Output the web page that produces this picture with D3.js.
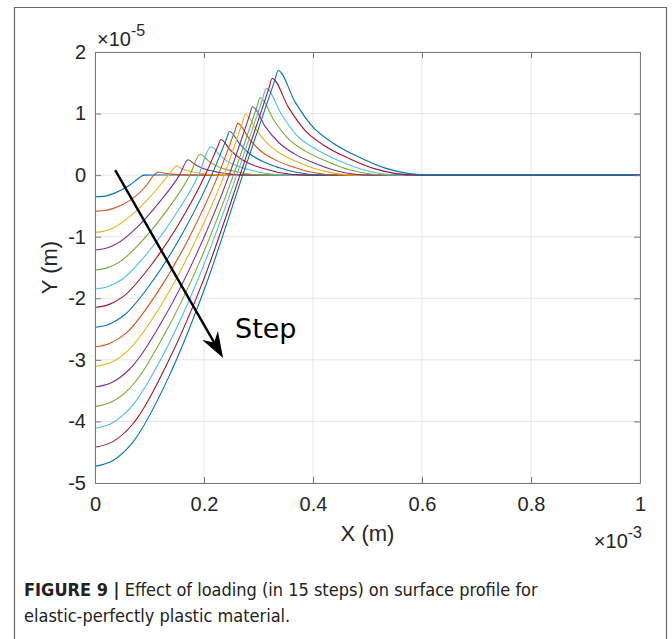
<!DOCTYPE html>
<html>
<head>
<meta charset="utf-8">
<script src="https://cdn.jsdelivr.net/npm/d3@7"></script>
<style>
body { margin: 0; background: #fff; }
svg { display: block; }
</style>
</head>
<body>
<div id="chartDiv"></div>
<script>
// x in 1e-3 m, y in 1e-5 m
const xTicks = [0, 0.2, 0.4, 0.6, 0.8, 1];
const xTickLabels = ['0', '0.2', '0.4', '0.6', '0.8', '1'];
const yTicks = [-5, -4, -3, -2, -1, 0, 1, 2];
const yTickLabels = ['-5', '-4', '-3', '-2', '-1', '0', '1', '2'];

const step01 = [[0,-0.35],[0.015,-0.345],[0.034,-0.30],[0.064,-0.16],[0.08,-0.05],[0.09,0],[0.12,0.003],[0.2,0],[1,0]];
const step02 = [[0,-0.584],[0.015,-0.578],[0.034,-0.54],[0.064,-0.41],[0.095,-0.16],[0.108,0],[0.117,0.05],[0.125,0.036],[0.132,0.026],[0.141,0.017],[0.153,0.009],[0.165,0.004],[0.182,0],[1,0]];
const step03 = [[0,-0.93],[0.016,-0.912],[0.034,-0.855],[0.068,-0.642],[0.101,-0.353],[0.135,0],[0.150,0.146],[0.160,0.103],[0.170,0.072],[0.182,0.046],[0.198,0.025],[0.214,0.01],[0.24,0],[1,0]];
const step04 = [[0,-1.216],[0.019,-1.192],[0.039,-1.118],[0.078,-0.839],[0.116,-0.462],[0.155,0],[0.171,0.25],[0.183,0.177],[0.195,0.12],[0.209,0.078],[0.229,0.043],[0.248,0.017],[0.28,0],[1,0]];
const step05 = [[0,-1.54],[0.021,-1.51],[0.044,-1.417],[0.087,-1.063],[0.131,-0.585],[0.174,0],[0.193,0.34],[0.207,0.24],[0.220,0.163],[0.236,0.105],[0.258,0.058],[0.279,0.023],[0.315,0],[1,0]];
const step06 = [[0,-1.85],[0.023,-1.813],[0.048,-1.702],[0.095,-1.277],[0.143,-0.703],[0.190,0],[0.213,0.46],[0.229,0.325],[0.244,0.22],[0.263,0.143],[0.287,0.078],[0.312,0.03],[0.355,0],[1,0]];
const step07 = [[0,-2.15],[0.024,-2.107],[0.051,-1.978],[0.101,-1.484],[0.152,-0.817],[0.202,0],[0.225,0.46],[0.231,0.58],[0.248,0.41],[0.265,0.278],[0.285,0.18],[0.313,0.099],[0.340,0.038],[0.385,0],[1,0]];
const step08 = [[0,-2.47],[0.026,-2.42],[0.054,-2.272],[0.107,-1.704],[0.161,-0.939],[0.214,0],[0.241,0.581],[0.247,0.71],[0.266,0.5],[0.285,0.34],[0.308,0.22],[0.338,0.12],[0.369,0.046],[0.42,0],[1,0]];
const step09 = [[0,-2.79],[0.027,-2.734],[0.057,-2.567],[0.113,-1.925],[0.170,-1.060],[0.226,0],[0.256,0.70],[0.262,0.84],[0.283,0.59],[0.303,0.40],[0.328,0.26],[0.360,0.143],[0.393,0.055],[0.45,0],[1,0]];
const step10 = [[0,-3.11],[0.028,-3.048],[0.059,-2.861],[0.119,-2.146],[0.178,-1.182],[0.237,0],[0.270,0.838],[0.276,0.99],[0.299,0.695],[0.321,0.475],[0.348,0.31],[0.384,0.17],[0.420,0.065],[0.48,0],[1,0]];
const step11 = [[0,-3.44],[0.030,-3.371],[0.062,-3.165],[0.123,-2.374],[0.185,-1.307],[0.246,0],[0.283,0.955],[0.289,1.11],[0.313,0.78],[0.337,0.53],[0.366,0.345],[0.404,0.19],[0.443,0.072],[0.505,0],[1,0]];
const step12 = [[0,-3.76],[0.030,-3.685],[0.064,-3.459],[0.127,-2.594],[0.191,-1.429],[0.254,0],[0.297,1.106],[0.303,1.26],[0.329,0.88],[0.355,0.59],[0.386,0.39],[0.428,0.215],[0.469,0.082],[0.537,0],[1,0]];
const step13 = [[0,-4.11],[0.031,-4.028],[0.065,-3.781],[0.130,-2.836],[0.195,-1.562],[0.260,0],[0.308,1.253],[0.314,1.41],[0.342,0.99],[0.369,0.66],[0.402,0.44],[0.446,0.24],[0.490,0.092],[0.562,0],[1,0]];
const step14 = [[0,-4.42],[0.032,-4.332],[0.067,-4.066],[0.133,-3.05],[0.200,-1.68],[0.266,0],[0.319,1.41],[0.325,1.57],[0.355,1.10],[0.384,0.74],[0.419,0.49],[0.467,0.267],[0.514,0.102],[0.59,0],[1,0]];
const step15 = [[0,-4.73],[0.033,-4.635],[0.068,-4.352],[0.136,-3.264],[0.203,-1.797],[0.271,0],[0.330,1.543],[0.336,1.70],[0.367,1.19],[0.398,0.80],[0.435,0.53],[0.485,0.29],[0.534,0.11],[0.615,0],[1,0]];

const steps = [step01, step02, step03, step04, step05, step06, step07, step08,
	step09, step10, step11, step12, step13, step14, step15];

// arrow annotation, start and end in data units
const arrowFrom = [0.037, 0.08];
const arrowTo = [0.235, -2.97];

// matlab default colour order
const lineColors = ['#0072BD', '#D95319', '#EDB120', '#7E2F8E', '#77AC30', '#4DBEEE', '#A2142F'];

const W = 672, H = 639;
const margin = { left: 95, top: 52, right: 32, bottom: 156 };
const tickFont = '"Liberation Sans", Arial, Helvetica, sans-serif';

function buildChart(){
	const plotW = W - margin.left - margin.right;
	const plotH = H - margin.top - margin.bottom;

	const svg = d3.select('#chartDiv').append('svg')
		.attr('width', W)
		.attr('height', H);

	// figure frame (open at the bottom)
	svg.append('path')
		.attr('d', `M14.5,${H + 2}V7.5H666.5V${H + 2}`)
		.attr('fill', 'none')
		.attr('stroke', '#6b6b6b')
		.attr('stroke-width', 1.2);

	const x = d3.scaleLinear().domain([0, 1]).range([margin.left, margin.left + plotW]);
	const y = d3.scaleLinear().domain([-5, 2]).range([margin.top + plotH, margin.top]);

	const g = svg.append('g');

	// grid
	g.append('g').selectAll('line')
		.data(xTicks)
		.enter().append('line')
		.attr('x1', d => x(d)).attr('x2', d => x(d))
		.attr('y1', y(-5)).attr('y2', y(2))
		.attr('stroke', '#e6e6e6');
	g.append('g').selectAll('line')
		.data(yTicks)
		.enter().append('line')
		.attr('y1', d => y(d)).attr('y2', d => y(d))
		.attr('x1', x(0)).attr('x2', x(1))
		.attr('stroke', '#e6e6e6');

	// profiles
	const lineFn = d3.line()
		.x(d => x(d[0]))
		.y(d => y(d[1]))
		.curve(d3.curveMonotoneX);

	g.append('g').selectAll('path')
		.data(steps)
		.enter().append('path')
		.attr('d', lineFn)
		.attr('fill', 'none')
		.attr('stroke', (d, i) => lineColors[i % lineColors.length])
		.attr('stroke-width', 1.1);

	// axes, ticks pointing in
	const fmtX = d => xTickLabels[xTicks.indexOf(d)];
	const fmtY = d => yTickLabels[yTicks.indexOf(d)];

	const axB = g.append('g')
		.attr('transform', `translate(0,${y(-5)})`)
		.call(d3.axisBottom(x).tickValues(xTicks).tickFormat(fmtX).tickSizeInner(-6).tickSizeOuter(0).tickPadding(14));
	const axL = g.append('g')
		.attr('transform', `translate(${x(0)},0)`)
		.call(d3.axisLeft(y).tickValues(yTicks).tickFormat(fmtY).tickSizeInner(-6).tickSizeOuter(0).tickPadding(9));
	const axT = g.append('g')
		.attr('transform', `translate(0,${y(2)})`)
		.call(d3.axisTop(x).tickValues(xTicks).tickFormat('').tickSizeInner(-6).tickSizeOuter(0));
	const axR = g.append('g')
		.attr('transform', `translate(${x(1)},0)`)
		.call(d3.axisRight(y).tickValues(yTicks).tickFormat('').tickSizeInner(-6).tickSizeOuter(0));

	[axB, axL, axT, axR].forEach(a => {
		a.selectAll('path, line').attr('stroke', '#7a7a7a');
		a.selectAll('text')
			.attr('fill', '#262626')
			.style('font-family', tickFont)
			.style('font-size', '20px');
	});

	// axis labels
	svg.append('text')
		.attr('x', x(0.5)).attr('y', 541)
		.attr('text-anchor', 'middle')
		.style('font-family', tickFont).style('font-size', '22px')
		.attr('fill', '#262626')
		.text('X (m)');

	svg.append('text')
		.attr('transform', `translate(57,${y(-1.5)}) rotate(-90)`)
		.attr('text-anchor', 'middle')
		.style('font-family', tickFont).style('font-size', '22px')
		.attr('fill', '#262626')
		.text('Y (m)');

	// exponent labels
	const expY = svg.append('text')
		.attr('x', 97).attr('y', 46)
		.style('font-family', tickFont).style('font-size', '20px')
		.attr('fill', '#262626');
	expY.append('tspan').text('\u00d710');
	expY.append('tspan').attr('dy', -10).style('font-size', '16px').text('-5');

	const expX = svg.append('text')
		.attr('x', 642).attr('y', 548)
		.attr('text-anchor', 'end')
		.style('font-family', tickFont).style('font-size', '20px')
		.attr('fill', '#262626');
	expX.append('tspan').text('\u00d710');
	expX.append('tspan').attr('dy', -10).style('font-size', '16px').text('-3');

	// arrow
	const x0 = x(arrowFrom[0]), y0 = y(arrowFrom[1]);
	const x1 = x(arrowTo[0]), y1 = y(arrowTo[1]);
	const len = Math.hypot(x1 - x0, y1 - y0);
	const ux = (x1 - x0) / len, uy = (y1 - y0) / len;
	const px = -uy, py = ux;
	svg.append('line')
		.attr('x1', x0).attr('y1', y0)
		.attr('x2', x1 - ux * 16).attr('y2', y1 - uy * 16)
		.attr('stroke', '#000').attr('stroke-width', 2.4);
	const head = [
		[x1, y1],
		[x1 - ux * 26 + px * 9, y1 - uy * 26 + py * 9],
		[x1 - ux * 18, y1 - uy * 18],
		[x1 - ux * 26 - px * 9, y1 - uy * 26 - py * 9]
	];
	svg.append('path')
		.attr('d', 'M' + head.join('L') + 'Z')
		.attr('fill', '#000');

	svg.append('text')
		.attr('x', 235).attr('y', 338)
		.style('font-family', '"DejaVu Sans", sans-serif').style('font-size', '27px')
		.attr('fill', '#000')
		.text('Step');

	// caption
	const capFont = '"Liberation Sans Narrow", "Arial Narrow", "DejaVu Sans Condensed", sans-serif';
	const cap1 = svg.append('text')
		.attr('x', 24).attr('y', 596)
		.style('font-family', capFont).style('font-size', '18px')
		.attr('fill', '#222');
	cap1.append('tspan').style('font-weight', 'bold').text('FIGURE 9 |');
	cap1.append('tspan').text(' Effect of loading (in 15 steps) on surface profile for');
	svg.append('text')
		.attr('x', 24).attr('y', 622)
		.style('font-family', capFont).style('font-size', '18px')
		.attr('fill', '#222')
		.text('elastic-perfectly plastic material.');
}

buildChart();
</script>
</body>
</html>
